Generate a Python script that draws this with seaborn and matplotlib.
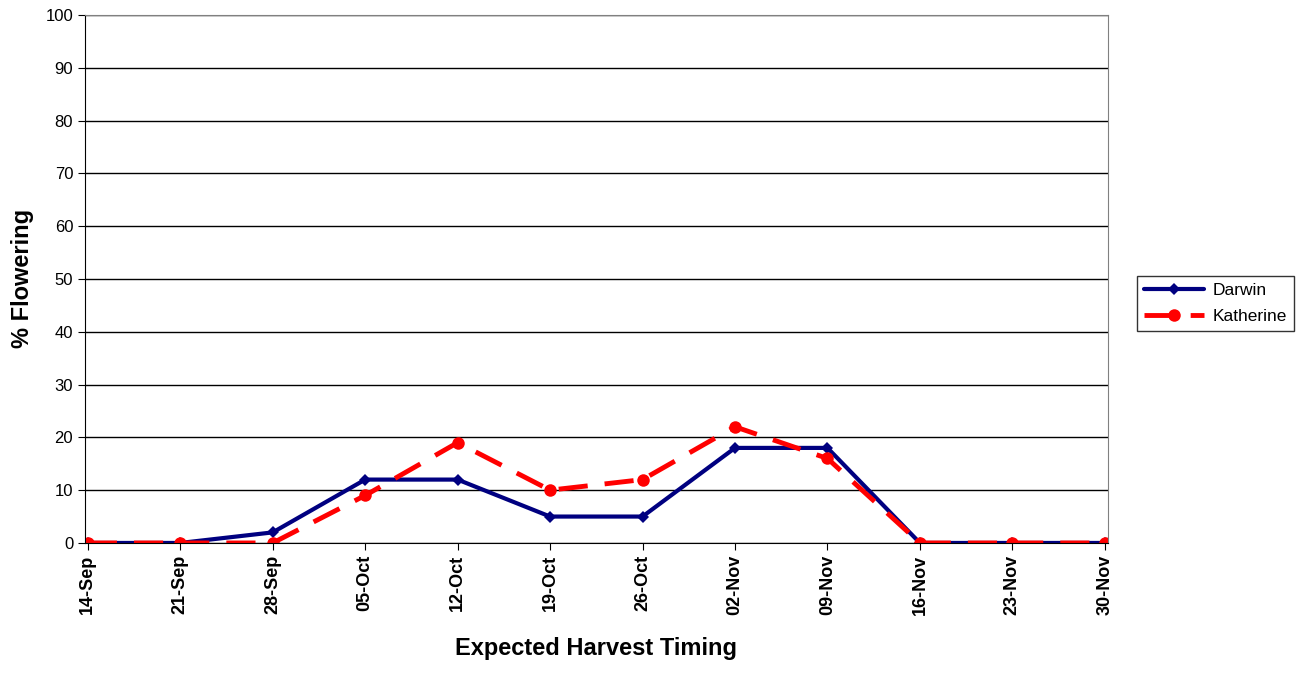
import pandas as pd
import matplotlib
matplotlib.use("Agg")
import matplotlib.pyplot as plt
import seaborn as sns

dates = ["14-Sep", "21-Sep", "28-Sep", "05-Oct", "12-Oct", "19-Oct", "26-Oct",
         "02-Nov", "09-Nov", "16-Nov", "23-Nov", "30-Nov"]
darwin = [0, 0, 2, 12, 12, 5, 5, 18, 18, 0, 0, 0]
katherine = [0, 0, 0, 9, 19, 10, 12, 22, 16, 0, 0, 0]

sns.set_style("white")
plt.rcParams['font.family'] = ['Liberation Sans', 'DejaVu Sans']
plt.rcParams['text.color'] = 'black'
plt.rcParams['axes.labelcolor'] = 'black'
plt.rcParams['xtick.color'] = 'black'
plt.rcParams['ytick.color'] = 'black'

fig = plt.figure(figsize=(13, 6.77), dpi=100)
ax = fig.add_axes([0.0654, 0.198, 0.7866, 0.78])

pos = list(range(len(dates)))
df = pd.DataFrame({"pos": pos, "Darwin": darwin, "Katherine": katherine})

sns.lineplot(data=df, x="pos", y="Darwin", ax=ax, color="#000080", linewidth=3,
             marker="D", markersize=6, markeredgewidth=0, label="Darwin")
sns.lineplot(data=df, x="pos", y="Katherine", ax=ax, color="#FF0000", linewidth=3.5,
             marker="o", markersize=9, markeredgewidth=0, label="Katherine",
             dashes=False, linestyle=(0, (6, 3.5)))

ax.set_xlim(-0.03, len(dates) - 1 + 0.03)
ax.set_ylim(0, 100)
ax.set_yticks(range(0, 101, 10))
ax.yaxis.grid(True, color="black", linewidth=1)
ax.set_axisbelow(True)
ax.set_xticks(pos)
ax.set_xticklabels(dates, rotation=90, fontweight="bold", fontsize=13)
ax.tick_params(axis="y", labelsize=12, length=5, direction="out", left=True)
ax.tick_params(axis="x", length=5, direction="out", bottom=True)
for s in ["top", "right"]:
    ax.spines[s].set_color("#808080")
for s in ["left", "bottom"]:
    ax.spines[s].set_color("black")
ax.set_xlabel("Expected Harvest Timing", fontsize=17, fontweight="bold", labelpad=16)
ax.set_ylabel("% Flowering", fontsize=17, fontweight="bold", labelpad=8)

ax.get_legend().remove()
h, l = ax.get_legend_handles_labels()
leg = fig.legend(h, l, loc="center", bbox_to_anchor=(0.935, 0.552), fontsize=12.5,
                 frameon=True, fancybox=False, edgecolor="black", handlelength=3.5,
                 handletextpad=0.5, borderpad=0.4, labelspacing=0.6)
leg.get_frame().set_linewidth(1)

fig.savefig("out.png", dpi=100)
